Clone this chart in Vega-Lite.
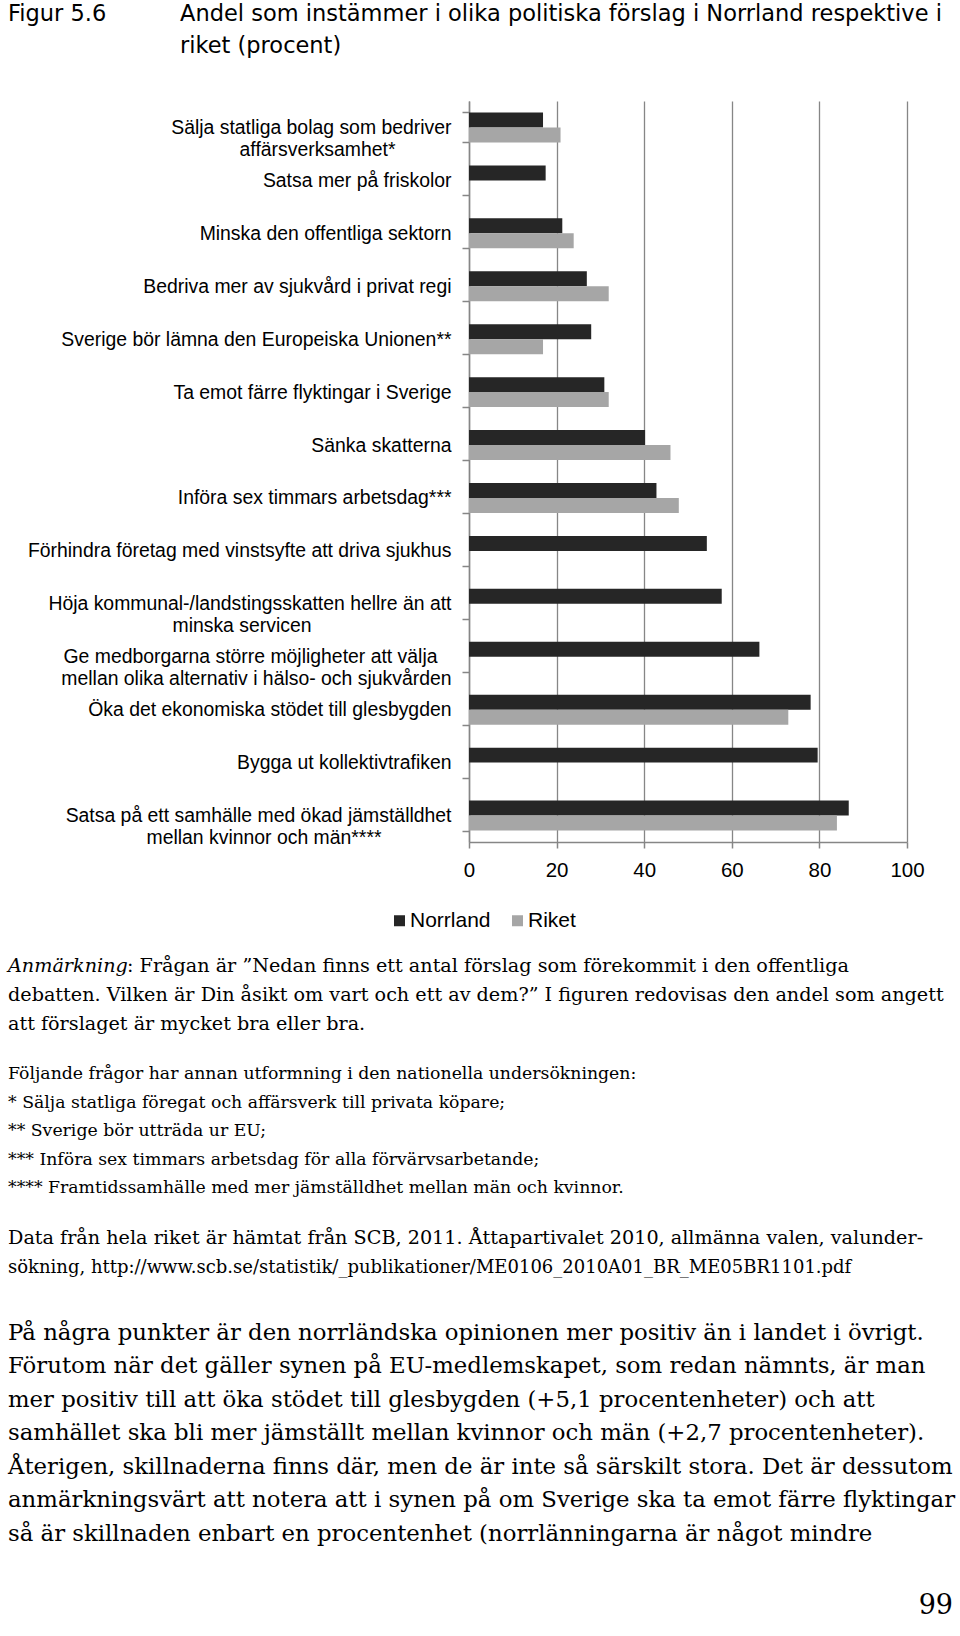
{
  "$schema": "https://vega.github.io/schema/vega-lite/v6.json",
  "padding": {"left": 8, "top": 0, "right": 0, "bottom": 0},
  "background": "white",
  "spacing": 0,
  "config": {
    "view": {"stroke": null},
    "font": "Liberation Sans",
    "concat": {"spacing": 0}
  },
  "resolve": {"legend": {"color": "independent"}},
  "vconcat": [
    {
      "width": 944,
      "height": 91,
      "data": {"values": [
        {"del": "nummer", "rad": 1, "text": "Figur 5.6"},
        {"del": "rubrik", "rad": 1, "text": "Andel som instämmer i olika politiska förslag i Norrland respektive i"},
        {"del": "rubrik", "rad": 2, "text": "riket (procent)"}
      ]},
      "mark": {"type": "text", "align": "left", "baseline": "alphabetic", "font": "DejaVu Sans", "fontSize": 22.5, "color": "#000"},
      "encoding": {
        "x": {"field": "del", "type": "nominal", "scale": {"type": "point", "domain": ["nummer", "rubrik"], "range": [0, 172], "padding": 0}, "axis": null},
        "y": {"field": "rad", "type": "quantitative", "scale": {"domain": [1, 2], "range": [21, 53], "zero": false, "nice": false}, "axis": null},
        "text": {"field": "text"}
      }
    },
    {
      "spacing": 0,
      "resolve": {"legend": {"color": "independent"}},
      "hconcat": [
        {
          "width": 19,
          "height": 839,
          "data": {"values": []},
          "mark": {"type": "text"},
          "encoding": {}
        },
        {
          "width": 438,
          "height": 741,
          "data": {"values": [
            {"forslag": "Sälja statliga bolag som bedriver affärsverksamhet*", "omrade": "Norrland", "andel": 16.9},
            {"forslag": "Sälja statliga bolag som bedriver affärsverksamhet*", "omrade": "Riket", "andel": 20.9},
            {"forslag": "Satsa mer på friskolor", "omrade": "Norrland", "andel": 17.5},
            {"forslag": "Minska den offentliga sektorn", "omrade": "Norrland", "andel": 21.3},
            {"forslag": "Minska den offentliga sektorn", "omrade": "Riket", "andel": 23.9},
            {"forslag": "Bedriva mer av sjukvård i privat regi", "omrade": "Norrland", "andel": 26.9},
            {"forslag": "Bedriva mer av sjukvård i privat regi", "omrade": "Riket", "andel": 31.9},
            {"forslag": "Sverige bör lämna den Europeiska Unionen**", "omrade": "Norrland", "andel": 27.9},
            {"forslag": "Sverige bör lämna den Europeiska Unionen**", "omrade": "Riket", "andel": 16.9},
            {"forslag": "Ta emot färre flyktingar i Sverige", "omrade": "Norrland", "andel": 30.9},
            {"forslag": "Ta emot färre flyktingar i Sverige", "omrade": "Riket", "andel": 31.9},
            {"forslag": "Sänka skatterna", "omrade": "Norrland", "andel": 40.2},
            {"forslag": "Sänka skatterna", "omrade": "Riket", "andel": 46.0},
            {"forslag": "Införa sex timmars arbetsdag***", "omrade": "Norrland", "andel": 42.8},
            {"forslag": "Införa sex timmars arbetsdag***", "omrade": "Riket", "andel": 47.9},
            {"forslag": "Förhindra företag med vinstsyfte att driva sjukhus", "omrade": "Norrland", "andel": 54.3},
            {"forslag": "Höja kommunal-/landstingsskatten hellre än att minska servicen", "omrade": "Norrland", "andel": 57.7},
            {"forslag": "Ge medborgarna större möjligheter att välja mellan olika alternativ i hälso- och sjukvården", "omrade": "Norrland", "andel": 66.3},
            {"forslag": "Öka det ekonomiska stödet till glesbygden", "omrade": "Norrland", "andel": 78.0},
            {"forslag": "Öka det ekonomiska stödet till glesbygden", "omrade": "Riket", "andel": 72.9},
            {"forslag": "Bygga ut kollektivtrafiken", "omrade": "Norrland", "andel": 79.6},
            {"forslag": "Satsa på ett samhälle med ökad jämställdhet mellan kvinnor och män****", "omrade": "Norrland", "andel": 86.7},
            {"forslag": "Satsa på ett samhälle med ökad jämställdhet mellan kvinnor och män****", "omrade": "Riket", "andel": 84.0}
          ]},
          "mark": {"type": "bar"},
          "encoding": {
            "y": {
              "field": "forslag", "type": "nominal", "sort": null,
              "scale": {"paddingInner": 0.434, "paddingOuter": 0.217},
              "axis": {
                "title": null,
                "labelFont": "Liberation Sans",
                "labelFontSize": 19.4,
                "labelColor": "#000",
                "labelPadding": 11,
                "labelLimit": 0,
                "labelLineHeight": 22,
                "tickSize": 7,
                "tickColor": "#868686",
                "tickWidth": 1.5,
                "tickBand": "extent",
                "domainColor": "#868686",
                "domainWidth": 1.5,
                "labelExpr": "datum.value === 'Sälja statliga bolag som bedriver affärsverksamhet*' ? ['Sälja statliga bolag som bedriver', 'affärsverksamhet*\u2800\u2800\u2800\u2800'] : datum.value === 'Höja kommunal-/landstingsskatten hellre än att minska servicen' ? ['Höja kommunal-/landstingsskatten hellre än att', 'minska servicen\u2800\u2800\u2800\u2800\u2800\u2800\u2800\u2800\u2800\u2800'] : datum.value === 'Ge medborgarna större möjligheter att välja mellan olika alternativ i hälso- och sjukvården' ? ['Ge medborgarna större möjligheter att välja\u2800', 'mellan olika alternativ i hälso- och sjukvården'] : datum.value === 'Satsa på ett samhälle med ökad jämställdhet mellan kvinnor och män****' ? ['Satsa på ett samhälle med ökad jämställdhet', 'mellan kvinnor och män****\u2800\u2800\u2800\u2800\u2800'] : datum.label"
              }
            },
            "yOffset": {
              "field": "omrade", "type": "nominal",
              "scale": {"domain": ["Norrland", "Riket"], "paddingInner": 0, "paddingOuter": 0}
            },
            "x": {
              "field": "andel", "type": "quantitative",
              "scale": {"domain": [0, 100], "nice": false},
              "axis": {
                "title": null,
                "values": [0, 20, 40, 60, 80, 100],
                "grid": true,
                "gridColor": "#868686",
                "gridWidth": 1.3,
                "domainColor": "#868686",
                "domainWidth": 1.5,
                "tickColor": "#868686",
                "tickWidth": 1.5,
                "tickSize": 6,
                "labelFont": "Liberation Sans",
                "labelFontSize": 20.5,
                "labelColor": "#000",
                "labelPadding": 12,
                "labelFlush": false
              }
            },
            "color": {
              "field": "omrade", "type": "nominal",
              "scale": {"domain": ["Norrland", "Riket"], "range": ["#262626", "#a6a6a6"]},
              "legend": {
                "title": null,
                "orient": "none",
                "legendX": -80,
                "legendY": 809,
                "direction": "horizontal",
                "symbolType": "square",
                "symbolSize": 121,
                "symbolStrokeWidth": 0,
                "labelFont": "Liberation Sans",
                "labelFontSize": 21,
                "labelColor": "#000",
                "labelOffset": 0,
                "columnPadding": 16,
                "padding": 0
              }
            }
          }
        }
      ]
    },
    {
      "width": 945,
      "height": 696,
      "resolve": {"scale": {"y": "independent"}},
      "layer": [
        {
          "data": {"values": [{"rad": 1, "text": "Anmärkning"}]},
          "mark": {"type": "text", "align": "left", "baseline": "alphabetic", "font": "DejaVu Serif", "fontSize": 19.2, "fontStyle": "italic", "color": "#000"},
          "encoding": {
            "x": {"value": 0},
            "y": {"field": "rad", "type": "quantitative", "scale": {"domain": [1, 3], "range": [32, 90], "zero": false, "nice": false}, "axis": null},
            "text": {"field": "text"}
          }
        },
        {
          "data": {"values": [{"rad": 1, "text": ": Frågan är ”Nedan finns ett antal förslag som förekommit i den offentliga"}]},
          "mark": {"type": "text", "align": "left", "baseline": "alphabetic", "font": "DejaVu Serif", "fontSize": 19.2, "dx": 119, "color": "#000"},
          "encoding": {
            "x": {"value": 0},
            "y": {"field": "rad", "type": "quantitative", "scale": {"domain": [1, 3], "range": [32, 90], "zero": false, "nice": false}, "axis": null},
            "text": {"field": "text"}
          }
        },
        {
          "data": {"values": [
            {"rad": 2, "text": "debatten. Vilken är Din åsikt om vart och ett av dem?” I figuren redovisas den andel som angett"},
            {"rad": 3, "text": "att förslaget är mycket bra eller bra."}
          ]},
          "mark": {"type": "text", "align": "left", "baseline": "alphabetic", "font": "DejaVu Serif", "fontSize": 19.2, "color": "#000"},
          "encoding": {
            "x": {"value": 0},
            "y": {"field": "rad", "type": "quantitative", "scale": {"domain": [1, 3], "range": [32, 90], "zero": false, "nice": false}, "axis": null},
            "text": {"field": "text"}
          }
        },
        {
          "data": {"values": [
            {"rad": 1, "text": "Följande frågor har annan utformning i den nationella undersökningen:"},
            {"rad": 2, "text": "* Sälja statliga föregat och affärsverk till privata köpare;"},
            {"rad": 3, "text": "** Sverige bör utträda ur EU;"},
            {"rad": 4, "text": "*** Införa sex timmars arbetsdag för alla förvärvsarbetande;"},
            {"rad": 5, "text": "**** Framtidssamhälle med mer jämställdhet mellan män och kvinnor."}
          ]},
          "mark": {"type": "text", "align": "left", "baseline": "alphabetic", "font": "DejaVu Serif", "fontSize": 17.3, "color": "#000"},
          "encoding": {
            "x": {"value": 0},
            "y": {"field": "rad", "type": "quantitative", "scale": {"domain": [1, 5], "range": [139, 253], "zero": false, "nice": false}, "axis": null},
            "text": {"field": "text"}
          }
        },
        {
          "data": {"values": [
            {"rad": 1, "text": "Data från hela riket är hämtat från SCB, 2011. Åttapartivalet 2010, allmänna valen, valunder-"}
          ]},
          "mark": {"type": "text", "align": "left", "baseline": "alphabetic", "font": "DejaVu Serif", "fontSize": 19.2, "color": "#000"},
          "encoding": {
            "x": {"value": 0},
            "y": {"field": "rad", "type": "quantitative", "scale": {"domain": [1, 2], "range": [304, 333], "zero": false, "nice": false}, "axis": null},
            "text": {"field": "text"}
          }
        },
        {
          "data": {"values": [
            {"rad": 2, "text": "sökning, http://www.scb.se/statistik/_publikationer/ME0106_2010A01_BR_ME05BR1101.pdf"}
          ]},
          "mark": {"type": "text", "align": "left", "baseline": "alphabetic", "font": "DejaVu Serif", "fontSize": 18, "color": "#000"},
          "encoding": {
            "x": {"value": 0},
            "y": {"field": "rad", "type": "quantitative", "scale": {"domain": [1, 2], "range": [304, 333], "zero": false, "nice": false}, "axis": null},
            "text": {"field": "text"}
          }
        },
        {
          "data": {"values": [
            {"rad": 1, "text": "På några punkter är den norrländska opinionen mer positiv än i landet i övrigt."},
            {"rad": 2, "text": "Förutom när det gäller synen på EU-medlemskapet, som redan nämnts, är man"},
            {"rad": 3, "text": "mer positiv till att öka stödet till glesbygden (+5,1 procentenheter) och att"},
            {"rad": 4, "text": "samhället ska bli mer jämställt mellan kvinnor och män (+2,7 procentenheter)."},
            {"rad": 5, "text": "Återigen, skillnaderna finns där, men de är inte så särskilt stora. Det är dessutom"},
            {"rad": 6, "text": "anmärkningsvärt att notera att i synen på om Sverige ska ta emot färre flyktingar"},
            {"rad": 7, "text": "så är skillnaden enbart en procentenhet (norrlänningarna är något mindre"}
          ]},
          "mark": {"type": "text", "align": "left", "baseline": "alphabetic", "font": "DejaVu Serif", "fontSize": 22.8, "color": "#000"},
          "encoding": {
            "x": {"value": 0},
            "y": {"field": "rad", "type": "quantitative", "scale": {"domain": [1, 7], "range": [399.5, 600.5], "zero": false, "nice": false}, "axis": null},
            "text": {"field": "text"}
          }
        },
        {
          "data": {"values": [{"rad": 1, "text": "99"}]},
          "mark": {"type": "text", "align": "right", "baseline": "alphabetic", "font": "DejaVu Serif", "fontSize": 27, "color": "#000"},
          "encoding": {
            "x": {"value": "width"},
            "y": {"field": "rad", "type": "quantitative", "scale": {"domain": [1, 2], "range": [674, 700], "zero": false, "nice": false}, "axis": null},
            "text": {"field": "text"}
          }
        }
      ]
    }
  ]
}
